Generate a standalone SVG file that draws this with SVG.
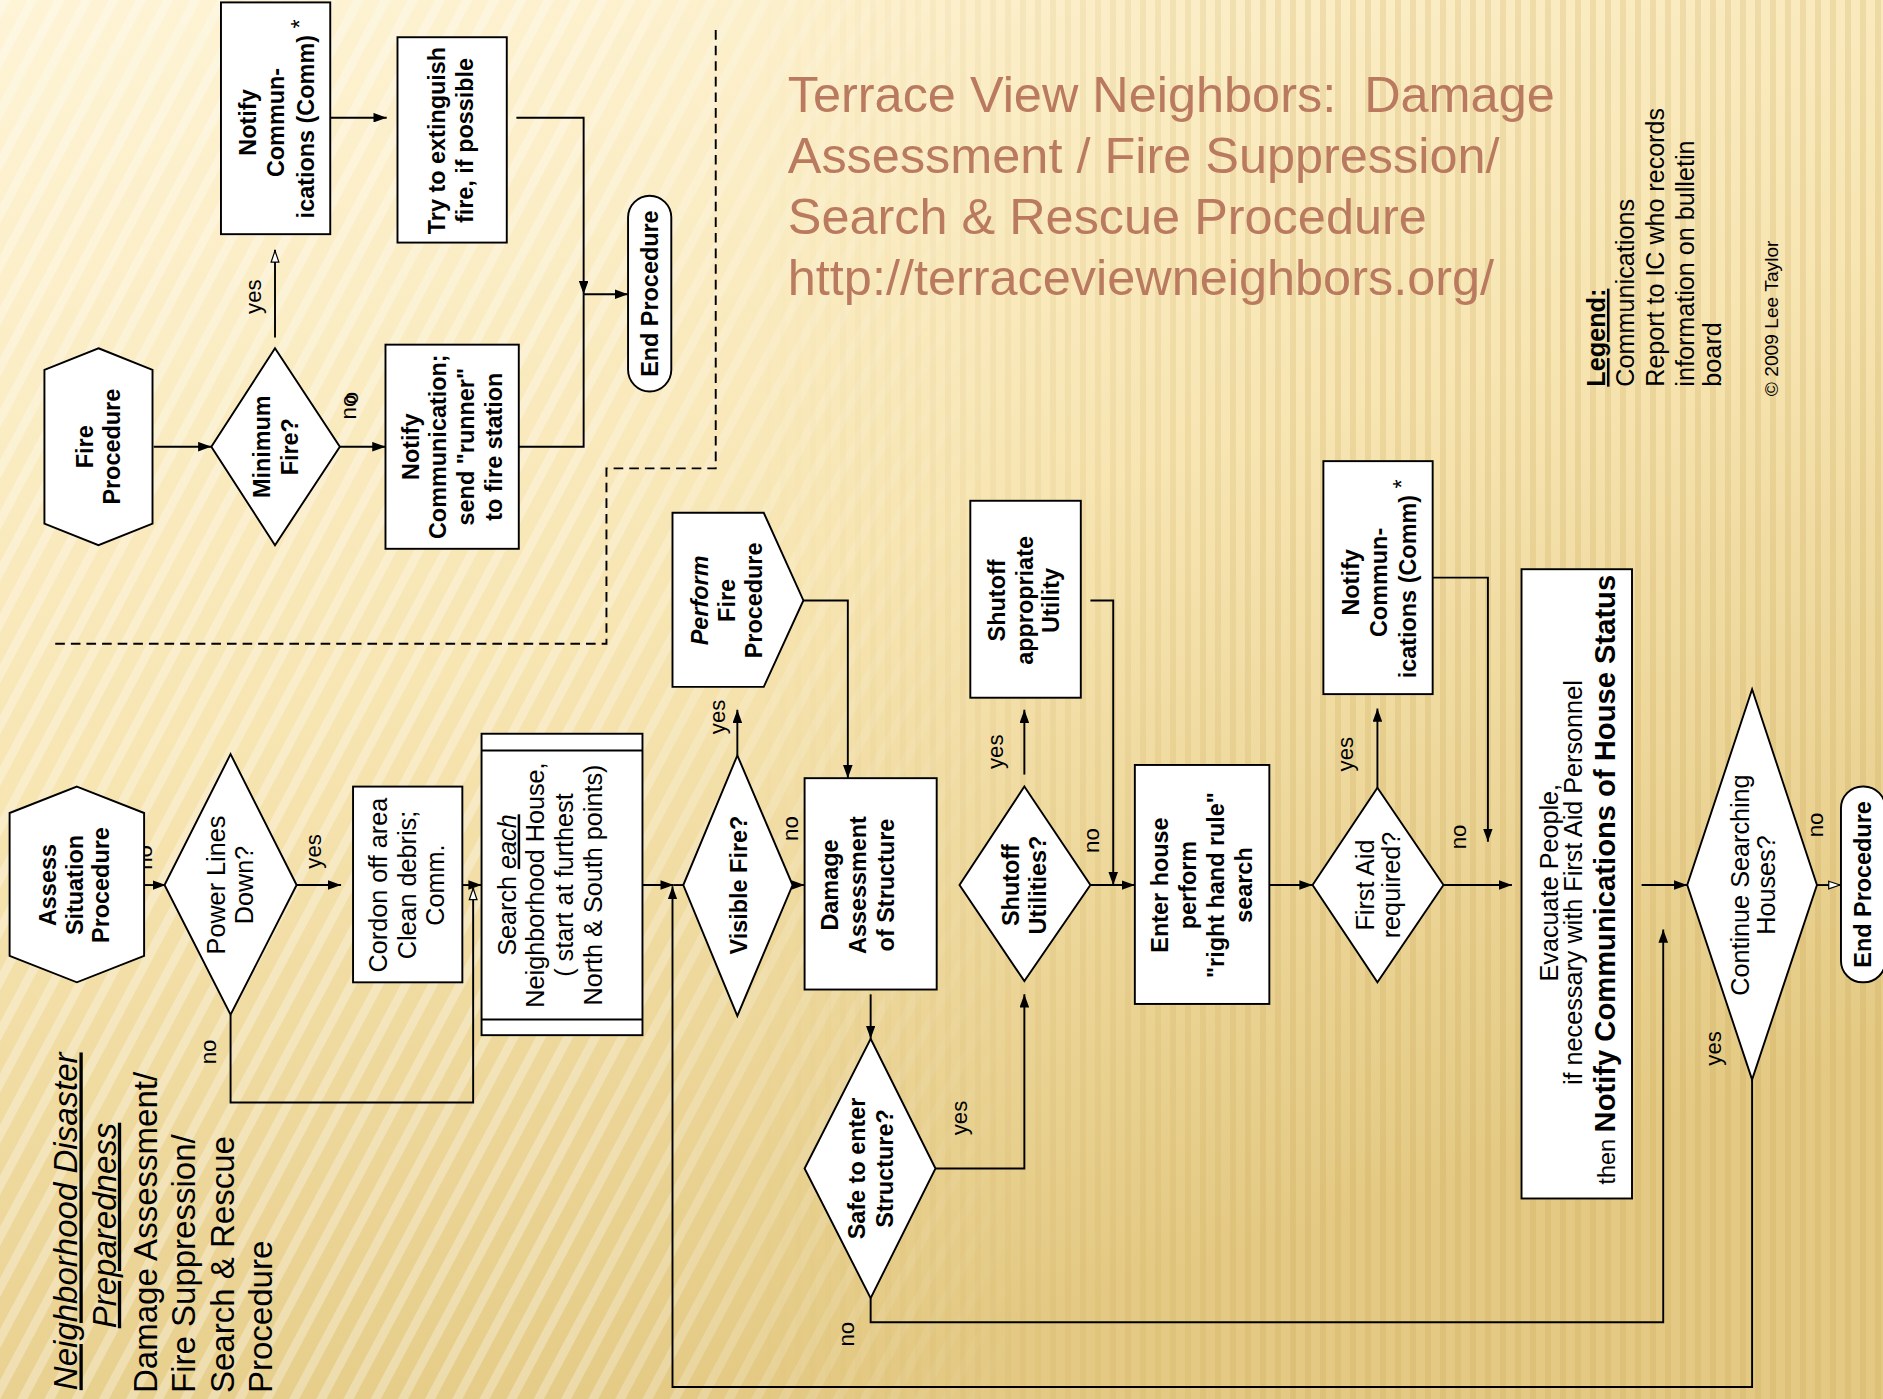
<svg xmlns="http://www.w3.org/2000/svg" width="1883" height="1399" viewBox="0 0 1883 1399">
<style>
.shape{fill:#fff;stroke:#000;stroke-width:1.6}
.conn path{fill:none;stroke:#000;stroke-width:1.6}
.dash{fill:none;stroke:#000;stroke-width:1.6;stroke-dasharray:8 5}
text{font-family:"Liberation Sans",Arial,Helvetica,sans-serif;fill:#000}
.b{font-weight:bold;font-size:19.5px;text-anchor:middle}
.r{font-size:21px;text-anchor:middle}
.lbl{font-size:18.5px;text-anchor:middle}
.title{font-size:42px;fill:#B97A60}
.leg{font-size:21px}
.big{font-size:27.5px}
</style>
<defs>
<linearGradient id="bg" x1="0" y1="0" x2="0.4" y2="1">
<stop offset="0" stop-color="#FEF4D6"/>
<stop offset="0.5" stop-color="#F7E5B2"/>
<stop offset="1" stop-color="#E3C983"/>
</linearGradient>
<pattern id="ds" width="24" height="40" patternUnits="userSpaceOnUse" patternTransform="rotate(28)"><rect width="9" height="40" fill="#fff" opacity="0.3"/></pattern>
<pattern id="vs" width="15" height="40" patternUnits="userSpaceOnUse"><rect width="6" height="40" fill="#C9A550" opacity="0.22"/></pattern>
<linearGradient id="mL" x1="0" y1="0" x2="1" y2="0"><stop offset="0.3" stop-color="#fff"/><stop offset="0.55" stop-color="#000"/></linearGradient>
<linearGradient id="mR" x1="0" y1="0" x2="1" y2="0"><stop offset="0.4" stop-color="#000"/><stop offset="0.7" stop-color="#fff"/></linearGradient>
<mask id="maskL"><rect width="1883" height="1399" fill="url(#mL)"/></mask>
<mask id="maskR"><rect width="1883" height="1399" fill="url(#mR)"/></mask>
<marker id="a" viewBox="0 0 11 8" refX="11" refY="4" markerWidth="11" markerHeight="8" orient="auto" markerUnits="userSpaceOnUse"><path d="M0,0L11,4L0,8z" fill="#000"/></marker>
<marker id="h" viewBox="0 0 11 8" refX="11" refY="4" markerWidth="11" markerHeight="8" orient="auto" markerUnits="userSpaceOnUse"><path d="M0.8,0.8L10.2,4L0.8,7.2z" fill="#fff" stroke="#000" stroke-width="1"/></marker>
</defs>
<rect width="1883" height="1399" fill="url(#bg)"/>
<rect width="1883" height="1399" fill="url(#ds)" mask="url(#maskL)"/>
<rect width="1883" height="1399" fill="url(#vs)" mask="url(#maskR)"/>

<g transform="scale(1.20089)">
<g id="title">
<text class="title" x="656" y="93" xml:space="preserve">Terrace View Neighbors:  Damage</text>
<text class="title" x="656" y="144">Assessment / Fire Suppression/</text>
<text class="title" x="656" y="195">Search &amp; Rescue Procedure</text>
<text class="title" x="656" y="246">http://terraceviewneighbors.org/</text>
</g>
<g id="legend" transform="rotate(-90)">
<text class="leg" x="-322" y="1336.5" font-weight="bold" text-decoration="underline">Legend:</text>
<text class="leg" x="-322" y="1361">Communications</text>
<text class="leg" x="-322" y="1385.3" textLength="232" lengthAdjust="spacingAndGlyphs">Report to IC who records</text>
<text class="leg" x="-322" y="1410.8" textLength="205" lengthAdjust="spacingAndGlyphs">information on bulletin</text>
<text class="leg" x="-322" y="1432.7">board</text>
<text x="-330" y="1480.6" font-size="16">© 2009 Lee Taylor</text>
</g>
<g id="side-title" transform="rotate(-90)">
<text class="big" x="-1017" y="64.5" text-anchor="middle" font-style="italic" text-decoration="underline" font-size="26.8">Neighborhood Disaster</text>
<text class="big" x="-1020.5" y="96.5" text-anchor="middle" font-style="italic" text-decoration="underline">Preparedness</text>
<text class="big" x="-1160" y="131">Damage Assessment/</text>
<text class="big" x="-1160" y="162.5">Fire Suppression/</text>
<text class="big" x="-1160" y="194.5">Search &amp; Rescue</text>
<text class="big" x="-1160" y="226.5">Procedure</text>
</g>

<path class="dash" d="M596,25V390H505V536H45"/>

<text class="lbl" transform="rotate(-90)" x="-714" y="126.8">no</text>

<g id="connectors" class="conn">
<path d="M128,372H176" marker-end="url(#a)"/>
<path d="M229,281V208" marker-end="url(#h)"/>
<path d="M275,98H322" marker-end="url(#a)"/>
<path d="M283,372H321" marker-end="url(#a)"/>
<path d="M430,98H486V245" marker-end="url(#a)"/>
<path d="M432,372H486V245"/>
<path d="M486,245H523" marker-end="url(#a)"/>
<path d="M120,737H138" marker-end="url(#a)"/>
<path d="M247,737H284" marker-end="url(#a)"/>
<path d="M192,845V918H394V739" marker-end="url(#h)"/>
<path d="M385,737H401" marker-end="url(#a)"/>
<path d="M522,737H561" marker-end="url(#a)"/>
<path d="M561,737H569"/>
<path d="M1459,899V1155H560V738" marker-end="url(#a)"/>
<path d="M614,629V591" marker-end="url(#a)"/>
<path d="M669,500H706V648" marker-end="url(#a)"/>
<path d="M660,737H670" marker-end="url(#a)"/>
<path d="M725,828V865" marker-end="url(#a)"/>
<path d="M779,973H853V828" marker-end="url(#a)"/>
<path d="M853,645V591" marker-end="url(#a)"/>
<path d="M908,500H927V737" marker-end="url(#a)"/>
<path d="M908,737H945" marker-end="url(#a)"/>
<path d="M1057,737H1093" marker-end="url(#a)"/>
<path d="M1147,656V590" marker-end="url(#a)"/>
<path d="M1193,481H1239V701" marker-end="url(#a)"/>
<path d="M1202,737H1259" marker-end="url(#a)"/>
<path d="M725,1081V1101H1385V774" marker-end="url(#a)"/>
<path d="M1367,737H1405" marker-end="url(#a)"/>
<path d="M1513,737H1533" marker-end="url(#h)"/>
</g>

<g id="labels" class="lbl" transform="rotate(-90)">
<text x="-247" y="217.5">yes</text>
<text x="-339" y="296.8">no</text>
<text x="-331.5" y="297.8">o</text>
<text x="-709" y="267.5">yes</text>
<text x="-876" y="179.8">no</text>
<text x="-597" y="603.5">yes</text>
<text x="-690" y="664.8">no</text>
<text x="-931" y="805.5">yes</text>
<text x="-1111" y="710.8">no</text>
<text x="-626" y="835.5">yes</text>
<text x="-700" y="914.8">no</text>
<text x="-628" y="1126.5">yes</text>
<text x="-697" y="1220.8">no</text>
<text x="-687" y="1517.8">no</text>
<text x="-873" y="1433.5">yes</text>
</g>

<g id="fire-procedure">
<polygon class="shape" points="82,290 127,308 127,436 82,454 37,436 37,308"/>
<text class="b" transform="rotate(-90)"><tspan x="-372" y="77.8">Fire</tspan><tspan x="-372" y="99.8">Procedure</tspan></text>
</g>
<g id="minimum-fire">
<polygon class="shape" points="229,290 283,372 229,454 176,372"/>
<text class="b" transform="rotate(-90)"><tspan x="-372" y="224.8">Minimum</tspan><tspan x="-372" y="247.8">Fire?</tspan></text>
</g>
<g id="notify-comm-1">
<rect class="shape" x="184" y="2" width="91" height="193"/>
<text class="b" transform="rotate(-90)"><tspan x="-102" y="213.3">Notify</tspan><tspan x="-102" y="236.8">Commun-</tspan><tspan x="-99" y="261.8">ications (Comm) <tspan font-weight="normal" dy="-5">*</tspan></tspan></text>
</g>
<g id="try-extinguish">
<rect class="shape" x="331" y="31" width="91" height="171"/>
<text class="b" transform="rotate(-90)"><tspan x="-117" y="370.3">Try to extinguish</tspan><tspan x="-117" y="393.8">fire, if possible</tspan></text>
</g>
<g id="notify-runner">
<rect class="shape" x="321" y="287" width="111" height="170"/>
<text class="b" transform="rotate(-90)"><tspan x="-372" y="348.8">Notify</tspan><tspan x="-372" y="371.8">Communication;</tspan><tspan x="-372" y="394.8">send "runner"</tspan><tspan x="-372" y="417.8">to fire station</tspan></text>
</g>
<g id="end-procedure-1">
<rect class="shape" x="523" y="163" width="36" height="163" rx="18" ry="18"/>
<text class="b" transform="rotate(-90)" x="-244.5" y="547.8">End Procedure</text>
</g>
<g id="assess">
<polygon class="shape" points="64,655 120,677 120,796 64,818 8,796 8,677"/>
<text class="b" transform="rotate(-90)"><tspan x="-737" y="46.8">Assess</tspan><tspan x="-737" y="68.8">Situation</tspan><tspan x="-737" y="90.8">Procedure</tspan></text>
</g>
<g id="power-lines">
<polygon class="shape" points="192,628 247,737 192,845 137,737"/>
<text class="r" transform="rotate(-90)"><tspan x="-737" y="187.4">Power Lines</tspan><tspan x="-737" y="210.4">Down?</tspan></text>
</g>
<g id="cordon">
<rect class="shape" x="294" y="655" width="91" height="163"/>
<text class="r" transform="rotate(-90)"><tspan x="-737" y="322.4">Cordon off area</tspan><tspan x="-737" y="346">Clean debris;</tspan><tspan x="-737" y="369.4">Comm.</tspan></text>
</g>
<g id="search-each">
<rect class="shape" x="401" y="611" width="134" height="251"/>
<path d="M401,625H535M401,849H535" stroke="#000" stroke-width="1.6"/>
<text class="r" transform="rotate(-90)"><tspan x="-737" y="429.4">Search <tspan font-style="italic" text-decoration="underline">each</tspan></tspan><tspan x="-737" y="453.4">Neighborhood House,</tspan><tspan x="-737" y="477.4">( start at furthest</tspan><tspan x="-737" y="501.4">North &amp; South points)</tspan></text>
</g>
<g id="visible-fire">
<polygon class="shape" points="614,629 660,737 614,846 569,737"/>
<text class="b" transform="rotate(-90)" x="-737" y="621.8">Visible Fire?</text>
</g>
<g id="perform-fire">
<polygon class="shape" points="560,427 636,427 669,500 636,572 560,572"/>
<text class="b" transform="rotate(-90)"><tspan x="-500" y="589.8" font-style="italic">Perform</tspan><tspan x="-500" y="612.3">Fire</tspan><tspan x="-500" y="634.8">Procedure</tspan></text>
</g>
<g id="damage-assessment">
<rect class="shape" x="670" y="648" width="110" height="176"/>
<text class="b" transform="rotate(-90)"><tspan x="-737" y="697.8">Damage</tspan><tspan x="-737" y="721.3">Assessment</tspan><tspan x="-737" y="744.8">of Structure</tspan></text>
</g>
<g id="safe-to-enter">
<polygon class="shape" points="725,865 779,973 725,1081 670,973"/>
<text class="b" transform="rotate(-90)"><tspan x="-973" y="720.3">Safe to enter</tspan><tspan x="-973" y="743.3">Structure?</tspan></text>
</g>
<g id="shutoff-utilities">
<polygon class="shape" points="853,655 908,737 853,817 799,737"/>
<text class="b" transform="rotate(-90)"><tspan x="-737" y="848.8">Shutoff</tspan><tspan x="-737" y="870.8">Utilities?</tspan></text>
</g>
<g id="shutoff-utility">
<rect class="shape" x="808" y="417" width="92" height="164"/>
<text class="b" transform="rotate(-90)"><tspan x="-500" y="836.8">Shutoff</tspan><tspan x="-500" y="859.8">appropriate</tspan><tspan x="-500" y="881.8">Utility</tspan></text>
</g>
<g id="enter-house">
<rect class="shape" x="945" y="637" width="112" height="199"/>
<text class="b" transform="rotate(-90)"><tspan x="-737" y="972.8">Enter house</tspan><tspan x="-737" y="996.3">perform</tspan><tspan x="-737" y="1019.3">"right hand rule"</tspan><tspan x="-737" y="1042.8">search</tspan></text>
</g>
<g id="first-aid">
<polygon class="shape" points="1147,656 1202,737 1147,818 1093,737"/>
<text class="r" transform="rotate(-90)"><tspan x="-737" y="1144.4">First Aid</tspan><tspan x="-737" y="1166">required?</tspan></text>
</g>
<g id="notify-comm-2">
<rect class="shape" x="1102" y="384" width="91" height="194"/>
<text class="b" transform="rotate(-90)"><tspan x="-485" y="1131.8">Notify</tspan><tspan x="-485" y="1154.8">Commun-</tspan><tspan x="-482" y="1178.8">ications (Comm) <tspan font-weight="normal" dy="-5">*</tspan></tspan></text>
</g>
<g id="evacuate">
<rect class="shape" x="1267" y="474" width="92" height="524"/>
<text class="r" transform="rotate(-90)"><tspan x="-735" y="1297.4">Evacuate People,</tspan><tspan x="-735" y="1317.4">if necessary with First Aid Personnel</tspan><tspan x="-732.5" y="1345" font-size="19.5">then <tspan font-size="24.3" font-weight="bold">Notify Communications of House Status</tspan></tspan></text>
</g>
<g id="continue-searching">
<polygon class="shape" points="1459,574 1513,737 1459,899 1405,737"/>
<text class="r" transform="rotate(-90)"><tspan x="-737" y="1456.4">Continue Searching</tspan><tspan x="-737" y="1478.4">Houses?</tspan></text>
</g>
<g id="end-procedure-2">
<rect class="shape" x="1533" y="655" width="37" height="163" rx="18" ry="18"/>
<text class="b" transform="rotate(-90)" x="-736.5" y="1558.3">End Procedure</text>
</g>
</g>
</svg>
